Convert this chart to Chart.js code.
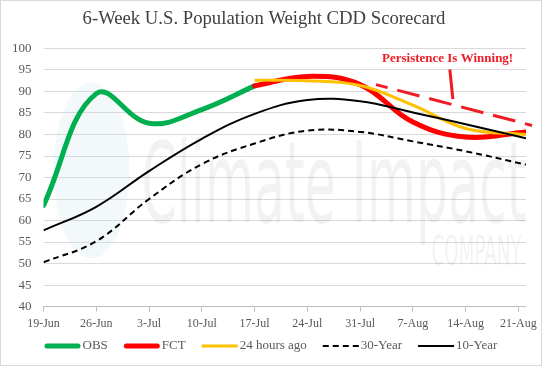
<!DOCTYPE html>
<html>
<head>
<meta charset="utf-8">
<script src="https://cdn.jsdelivr.net/npm/chart.js@4.4.1/dist/chart.umd.min.js"></script>
<style>
  html, body { margin: 0; padding: 0; background: #fff; }
  #wrap { width: 542px; height: 366px; }
</style>
</head>
<body>
<div id="wrap"><canvas id="cdd"></canvas></div>
<script>
// --- DATA ---
const tickDays = [0, 7, 14, 21, 28, 35, 42, 49, 56, 63];
const tickLabels = ['19-Jun', '26-Jun', '3-Jul', '10-Jul', '17-Jul', '24-Jul', '31-Jul', '7-Aug', '14-Aug', '21-Aug'];
const days = [0, 7, 14, 21, 28, 35, 42, 49, 56, 64];

const obs      = [63.5, 89.5, 82.6, 85.8, 91.3, null, null, null, null, null];
const fct      = [null, null, null, null, 91.3, 93.5, 91.6, 82.9, 79.4, 80.6];
const hours24  = [null, null, null, null, 92.6, 92.5, 91.4, 86.8, 81.4, 80.0];
const year30   = [50.3, 55.2, 65.0, 73.1, 77.9, 80.9, 80.6, 78.4, 76.1, 73.0];
const year10   = [57.7, 63.2, 71.5, 79.0, 84.8, 88.0, 87.7, 85.1, 82.4, 79.1];

// annotation, in data units (day, CDD)
const persistLine = [[44.1, 91.6], [64.8, 82.1]];
const pointerLine = [[53.9, 95.1], [54.3, 88.2]];
const persistText = { day: 53.6, value: 97.6, text: 'Persistence Is Winning!' };

const serif = "'Liberation Serif', 'Times New Roman', serif";
Chart.defaults.font.family = serif;
Chart.defaults.color = '#595959';

const pts = arr => days.map((d, i) => ({ x: d, y: arr[i] }));

// --- PLUGINS ---
const watermark = {
    id: 'watermark',
    beforeDatasetsDraw(chart) {
        const { ctx, chartArea: a } = chart;
        ctx.save();
        ctx.beginPath();
        ctx.rect(a.left, a.top, a.right - a.left, a.bottom - a.top);
        ctx.clip();
        // faint globe logo
        ctx.fillStyle = 'rgba(200,222,236,0.22)';
        ctx.beginPath();
        ctx.ellipse(a.left + 48, a.top + 122, 38, 88, 0, 0, Math.PI * 2);
        ctx.fill();
        ctx.fillStyle = 'rgba(0,0,0,0.05)';
        ctx.textBaseline = 'alphabetic';
        const sans = "'DejaVu Sans Condensed', 'Liberation Sans', sans-serif";
        ctx.font = '112px ' + sans;
        let w = ctx.measureText('Climate Impact').width;
        ctx.save();
        ctx.translate(a.left + 98, a.top + 174);
        ctx.scale(385 / w, 1);
        ctx.fillText('Climate Impact', 0, 0);
        ctx.restore();
        ctx.font = '40px ' + sans;
        w = ctx.measureText('COMPANY').width;
        ctx.translate(a.left + 388, a.top + 217);
        ctx.scale(90 / w, 1);
        ctx.fillText('COMPANY', 0, 0);
        ctx.restore();
    }
};

const annotation = {
    id: 'persist',
    afterDatasetsDraw(chart) {
        const { ctx, scales: { x, y } } = chart;
        const px = p => [x.getPixelForValue(p[0]), y.getPixelForValue(p[1])];
        ctx.save();
        ctx.strokeStyle = '#ee1c25';
        ctx.lineWidth = 3;
        ctx.setLineDash([23, 10]);
        ctx.lineDashOffset = 11;
        let a = px(persistLine[0]), b = px(persistLine[1]);
        ctx.beginPath(); ctx.moveTo(a[0], a[1]); ctx.lineTo(b[0], b[1]); ctx.stroke();
        ctx.setLineDash([]);
        a = px(pointerLine[0]); b = px(pointerLine[1]);
        ctx.beginPath(); ctx.moveTo(a[0], a[1]); ctx.lineTo(b[0], b[1]); ctx.stroke();
        ctx.fillStyle = '#ee1c25';
        ctx.font = 'bold 13px ' + serif;
        ctx.textAlign = 'center';
        ctx.textBaseline = 'middle';
        ctx.fillText(persistText.text, x.getPixelForValue(persistText.day), y.getPixelForValue(persistText.value));
        ctx.restore();
    }
};

// legend drawn by hand so the swatches sit the way Excel puts them
const lineLegend = {
    id: 'lineLegend',
    afterDraw(chart) {
        const { ctx } = chart;
        const yMid = chart.height - 20;
        let x = chart.chartArea.left + 1;
        ctx.save();
        ctx.font = '13px ' + serif;
        ctx.textBaseline = 'middle';
        chart.data.datasets.forEach(ds => {
            ctx.strokeStyle = ds.borderColor;
            ctx.lineWidth = ds.borderWidth;
            ctx.lineCap = ds.borderCapStyle || 'butt';
            ctx.setLineDash(ds.borderDash || []);
            const inset = ds.borderCapStyle === 'round' ? ds.borderWidth / 2 : 0;
            ctx.beginPath();
            ctx.moveTo(x + inset, yMid);
            ctx.lineTo(x + 36 - inset, yMid);
            ctx.stroke();
            ctx.setLineDash([]);
            ctx.fillStyle = '#595959';
            ctx.fillText(ds.label, x + 38, yMid);
            x += 38 + ctx.measureText(ds.label).width + 16;
        });
        ctx.restore();
    }
};

const frame = {
    id: 'frame',
    afterDraw(chart) {
        const { ctx, width, height } = chart;
        ctx.save();
        ctx.strokeStyle = '#d9d9d9';
        ctx.lineWidth = 1;
        ctx.strokeRect(0.5, 0.5, width - 1, height - 1);
        ctx.restore();
    }
};

// --- CHART ---
new Chart(document.getElementById('cdd'), {
    type: 'line',
    data: {
        datasets: [
            { label: 'OBS', data: pts(obs), borderColor: '#00b050', borderWidth: 5, borderCapStyle: 'round', order: 5 },
            { label: 'FCT', data: pts(fct), borderColor: '#ff0000', borderWidth: 5, borderCapStyle: 'round', order: 4 },
            { label: '24 hours ago', data: pts(hours24), borderColor: '#ffc000', borderWidth: 3, order: 3 },
            { label: '30-Year', data: pts(year30), borderColor: '#000000', borderWidth: 2, borderDash: [6, 4], order: 2 },
            { label: '10-Year', data: pts(year10), borderColor: '#000000', borderWidth: 2, order: 1 }
        ]
    },
    options: {
        responsive: true,
        maintainAspectRatio: false,
        animation: false,
        spanGaps: false,
        elements: { point: { radius: 0 }, line: { tension: 0.4, fill: false } },
        layout: { padding: { left: 0, right: 14, top: 2, bottom: 30 } },
        plugins: {
            title: {
                display: true,
                text: '6-Week U.S. Population Weight CDD Scorecard',
                color: '#404040',
                font: { size: 18.7, weight: 'normal' },
                padding: { top: 6, bottom: 18 }
            },
            tooltip: { enabled: false },
            legend: { display: false }
        },
        scales: {
            x: {
                type: 'linear',
                min: 0,
                max: 64,
                afterBuildTicks(axis) { axis.ticks = tickDays.map(v => ({ value: v })); },
                ticks: {
                    autoSkip: false,
                    maxRotation: 0,
                    color: '#595959',
                    font: { size: 12 },
                    padding: 5,
                    callback(v) { return tickLabels[tickDays.indexOf(v)]; }
                },
                grid: { drawOnChartArea: false, drawTicks: true, tickLength: 5, color: '#bfbfbf' },
                border: { display: true, color: '#bfbfbf' }
            },
            y: {
                min: 40,
                max: 100,
                ticks: { stepSize: 5, color: '#595959', font: { size: 13 }, padding: 12 },
                grid: { color: '#d9d9d9', drawTicks: false },
                border: { display: false }
            }
        }
    },
    plugins: [watermark, annotation, lineLegend, frame]
});
</script>
</body>
</html>
